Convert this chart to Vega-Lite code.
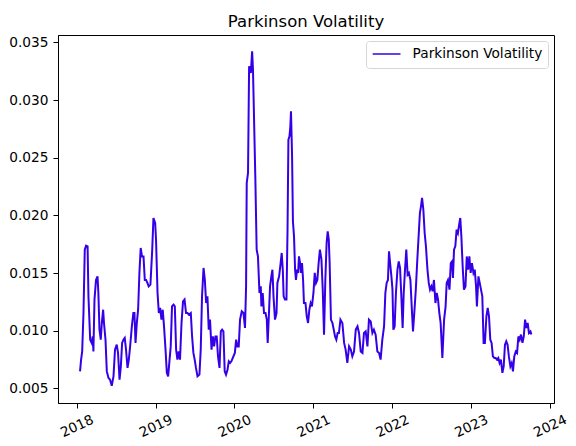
{
  "$schema": "https://vega.github.io/schema/vega-lite/v6.json",
  "description": "Parkinson volatility line chart.",
  "width": 496,
  "height": 368,
  "autosize": {"type": "none"},
  "padding": {"left": 58, "top": 35, "right": 22, "bottom": 43},
  "background": "white",
  "title": {
    "text": "Parkinson Volatility",
    "font": "DejaVu Sans",
    "fontSize": 16.5,
    "fontWeight": "normal",
    "color": "black",
    "anchor": "middle",
    "baseline": "alphabetic",
    "offset": 8,
    "dy": 16
  },
  "config": {
    "view": {"stroke": "black", "strokeWidth": 1},
    "axis": {
      "grid": false,
      "domainColor": "black",
      "tickColor": "black",
      "tickSize": 5,
      "labelColor": "black",
      "labelFont": "DejaVu Sans",
      "labelFontSize": 13.7,
      "title": null
    }
  },
  "data": {
    "values": [
      {"date": "2018-01-16", "vol": 0.00647},
      {"date": "2018-01-21", "vol": 0.00749},
      {"date": "2018-01-26", "vol": 0.00821},
      {"date": "2018-02-01", "vol": 0.01156},
      {"date": "2018-02-07", "vol": 0.01703},
      {"date": "2018-02-13", "vol": 0.01737},
      {"date": "2018-02-20", "vol": 0.01731},
      {"date": "2018-02-24", "vol": 0.01298},
      {"date": "2018-03-04", "vol": 0.00922},
      {"date": "2018-03-11", "vol": 0.00894},
      {"date": "2018-03-16", "vol": 0.0095},
      {"date": "2018-03-19", "vol": 0.0082},
      {"date": "2018-03-24", "vol": 0.0127},
      {"date": "2018-03-31", "vol": 0.0144},
      {"date": "2018-04-07", "vol": 0.01471},
      {"date": "2018-04-11", "vol": 0.01327},
      {"date": "2018-04-16", "vol": 0.01009},
      {"date": "2018-04-22", "vol": 0.00922},
      {"date": "2018-04-27", "vol": 0.01067},
      {"date": "2018-05-03", "vol": 0.01182},
      {"date": "2018-05-07", "vol": 0.01067},
      {"date": "2018-05-14", "vol": 0.00922},
      {"date": "2018-05-20", "vol": 0.00647},
      {"date": "2018-05-28", "vol": 0.0059},
      {"date": "2018-06-04", "vol": 0.00575},
      {"date": "2018-06-12", "vol": 0.00523},
      {"date": "2018-06-20", "vol": 0.00604},
      {"date": "2018-06-27", "vol": 0.00836},
      {"date": "2018-07-05", "vol": 0.00879},
      {"date": "2018-07-11", "vol": 0.00807},
      {"date": "2018-07-18", "vol": 0.00575},
      {"date": "2018-07-24", "vol": 0.00691},
      {"date": "2018-07-30", "vol": 0.00894},
      {"date": "2018-08-05", "vol": 0.00922},
      {"date": "2018-08-11", "vol": 0.00937},
      {"date": "2018-08-17", "vol": 0.00836},
      {"date": "2018-08-24", "vol": 0.00677},
      {"date": "2018-08-30", "vol": 0.00749},
      {"date": "2018-09-05", "vol": 0.00864},
      {"date": "2018-09-13", "vol": 0.01037},
      {"date": "2018-09-20", "vol": 0.01153},
      {"date": "2018-09-25", "vol": 0.01153},
      {"date": "2018-09-30", "vol": 0.00894},
      {"date": "2018-10-06", "vol": 0.01067},
      {"date": "2018-10-12", "vol": 0.01182},
      {"date": "2018-10-18", "vol": 0.01501},
      {"date": "2018-10-24", "vol": 0.01717},
      {"date": "2018-10-30", "vol": 0.01644},
      {"date": "2018-11-06", "vol": 0.01644},
      {"date": "2018-11-12", "vol": 0.0144},
      {"date": "2018-11-18", "vol": 0.0144},
      {"date": "2018-11-24", "vol": 0.01414},
      {"date": "2018-11-30", "vol": 0.01384},
      {"date": "2018-12-08", "vol": 0.01399},
      {"date": "2018-12-16", "vol": 0.01688},
      {"date": "2018-12-22", "vol": 0.01977},
      {"date": "2018-12-30", "vol": 0.01934},
      {"date": "2019-01-03", "vol": 0.01789},
      {"date": "2019-01-10", "vol": 0.01327},
      {"date": "2019-01-16", "vol": 0.01153},
      {"date": "2019-01-22", "vol": 0.01197},
      {"date": "2019-01-28", "vol": 0.01096},
      {"date": "2019-02-03", "vol": 0.01182},
      {"date": "2019-02-09", "vol": 0.01037},
      {"date": "2019-02-16", "vol": 0.00836},
      {"date": "2019-02-22", "vol": 0.00634},
      {"date": "2019-02-28", "vol": 0.00604},
      {"date": "2019-03-06", "vol": 0.00734},
      {"date": "2019-03-12", "vol": 0.00864},
      {"date": "2019-03-18", "vol": 0.01211},
      {"date": "2019-03-25", "vol": 0.01226},
      {"date": "2019-03-31", "vol": 0.01211},
      {"date": "2019-04-06", "vol": 0.00836},
      {"date": "2019-04-12", "vol": 0.00749},
      {"date": "2019-04-18", "vol": 0.0082},
      {"date": "2019-04-24", "vol": 0.00749},
      {"date": "2019-05-01", "vol": 0.01067},
      {"date": "2019-05-08", "vol": 0.01254},
      {"date": "2019-05-15", "vol": 0.0127},
      {"date": "2019-05-22", "vol": 0.01153},
      {"date": "2019-05-29", "vol": 0.01153},
      {"date": "2019-06-04", "vol": 0.01139},
      {"date": "2019-06-13", "vol": 0.01153},
      {"date": "2019-06-19", "vol": 0.0095},
      {"date": "2019-06-25", "vol": 0.00807},
      {"date": "2019-07-01", "vol": 0.00749},
      {"date": "2019-07-07", "vol": 0.00677},
      {"date": "2019-07-14", "vol": 0.00604},
      {"date": "2019-07-23", "vol": 0.00619},
      {"date": "2019-07-29", "vol": 0.00836},
      {"date": "2019-08-04", "vol": 0.01298},
      {"date": "2019-08-11", "vol": 0.01544},
      {"date": "2019-08-17", "vol": 0.0144},
      {"date": "2019-08-23", "vol": 0.0124},
      {"date": "2019-08-29", "vol": 0.01298},
      {"date": "2019-09-04", "vol": 0.01009},
      {"date": "2019-09-10", "vol": 0.01096},
      {"date": "2019-09-17", "vol": 0.00836},
      {"date": "2019-09-23", "vol": 0.0095},
      {"date": "2019-09-29", "vol": 0.00864},
      {"date": "2019-10-05", "vol": 0.0095},
      {"date": "2019-10-11", "vol": 0.0095},
      {"date": "2019-10-17", "vol": 0.00777},
      {"date": "2019-10-24", "vol": 0.00677},
      {"date": "2019-10-30", "vol": 0.00994},
      {"date": "2019-11-05", "vol": 0.01009},
      {"date": "2019-11-11", "vol": 0.00994},
      {"date": "2019-11-17", "vol": 0.00647},
      {"date": "2019-11-23", "vol": 0.00619},
      {"date": "2019-11-30", "vol": 0.00662},
      {"date": "2019-12-06", "vol": 0.00734},
      {"date": "2019-12-12", "vol": 0.0072},
      {"date": "2019-12-18", "vol": 0.00734},
      {"date": "2019-12-24", "vol": 0.00763},
      {"date": "2020-01-03", "vol": 0.00807},
      {"date": "2020-01-09", "vol": 0.00922},
      {"date": "2020-01-15", "vol": 0.00864},
      {"date": "2020-01-21", "vol": 0.00864},
      {"date": "2020-01-27", "vol": 0.01096},
      {"date": "2020-02-04", "vol": 0.01168},
      {"date": "2020-02-12", "vol": 0.01153},
      {"date": "2020-02-19", "vol": 0.01024},
      {"date": "2020-02-24", "vol": 0.01384},
      {"date": "2020-02-27", "vol": 0.02281},
      {"date": "2020-03-04", "vol": 0.02368},
      {"date": "2020-03-09", "vol": 0.03292},
      {"date": "2020-03-17", "vol": 0.03234},
      {"date": "2020-03-23", "vol": 0.03422},
      {"date": "2020-03-27", "vol": 0.03263},
      {"date": "2020-04-01", "vol": 0.0283},
      {"date": "2020-04-07", "vol": 0.0231},
      {"date": "2020-04-13", "vol": 0.01703},
      {"date": "2020-04-19", "vol": 0.01644},
      {"date": "2020-04-26", "vol": 0.01327},
      {"date": "2020-05-02", "vol": 0.01384},
      {"date": "2020-05-05", "vol": 0.01211},
      {"date": "2020-05-11", "vol": 0.01327},
      {"date": "2020-05-17", "vol": 0.01153},
      {"date": "2020-05-24", "vol": 0.01153},
      {"date": "2020-05-30", "vol": 0.01096},
      {"date": "2020-06-03", "vol": 0.00894},
      {"date": "2020-06-09", "vol": 0.01153},
      {"date": "2020-06-14", "vol": 0.01384},
      {"date": "2020-06-20", "vol": 0.01471},
      {"date": "2020-06-25", "vol": 0.01529},
      {"date": "2020-06-30", "vol": 0.01298},
      {"date": "2020-07-07", "vol": 0.01096},
      {"date": "2020-07-14", "vol": 0.01153},
      {"date": "2020-07-18", "vol": 0.01414},
      {"date": "2020-07-26", "vol": 0.01471},
      {"date": "2020-08-02", "vol": 0.01586},
      {"date": "2020-08-07", "vol": 0.01674},
      {"date": "2020-08-12", "vol": 0.01529},
      {"date": "2020-08-16", "vol": 0.01298},
      {"date": "2020-08-22", "vol": 0.0127},
      {"date": "2020-08-29", "vol": 0.0127},
      {"date": "2020-09-03", "vol": 0.01876},
      {"date": "2020-09-07", "vol": 0.02656},
      {"date": "2020-09-12", "vol": 0.02685},
      {"date": "2020-09-16", "vol": 0.02772},
      {"date": "2020-09-19", "vol": 0.02902},
      {"date": "2020-09-24", "vol": 0.02512},
      {"date": "2020-09-28", "vol": 0.01948},
      {"date": "2020-10-03", "vol": 0.01818},
      {"date": "2020-10-08", "vol": 0.01529},
      {"date": "2020-10-12", "vol": 0.0144},
      {"date": "2020-10-17", "vol": 0.01529},
      {"date": "2020-10-22", "vol": 0.01501},
      {"date": "2020-10-26", "vol": 0.01644},
      {"date": "2020-10-31", "vol": 0.01586},
      {"date": "2020-11-04", "vol": 0.01501},
      {"date": "2020-11-09", "vol": 0.01586},
      {"date": "2020-11-14", "vol": 0.0144},
      {"date": "2020-11-18", "vol": 0.0124},
      {"date": "2020-11-25", "vol": 0.0124},
      {"date": "2020-12-01", "vol": 0.01124},
      {"date": "2020-12-07", "vol": 0.01067},
      {"date": "2020-12-13", "vol": 0.01182},
      {"date": "2020-12-19", "vol": 0.0124},
      {"date": "2020-12-25", "vol": 0.01211},
      {"date": "2021-01-01", "vol": 0.01327},
      {"date": "2021-01-07", "vol": 0.01501},
      {"date": "2021-01-13", "vol": 0.01414},
      {"date": "2021-01-19", "vol": 0.0144},
      {"date": "2021-01-25", "vol": 0.01586},
      {"date": "2021-01-31", "vol": 0.01703},
      {"date": "2021-02-07", "vol": 0.01616},
      {"date": "2021-02-13", "vol": 0.01356},
      {"date": "2021-02-19", "vol": 0.00966},
      {"date": "2021-02-25", "vol": 0.0144},
      {"date": "2021-03-03", "vol": 0.01761},
      {"date": "2021-03-08", "vol": 0.01862},
      {"date": "2021-03-13", "vol": 0.01789},
      {"date": "2021-03-17", "vol": 0.01586},
      {"date": "2021-03-23", "vol": 0.01096},
      {"date": "2021-03-30", "vol": 0.01067},
      {"date": "2021-04-05", "vol": 0.01009},
      {"date": "2021-04-11", "vol": 0.0095},
      {"date": "2021-04-17", "vol": 0.00922},
      {"date": "2021-04-23", "vol": 0.0098},
      {"date": "2021-04-29", "vol": 0.0098},
      {"date": "2021-05-06", "vol": 0.01096},
      {"date": "2021-05-15", "vol": 0.01067},
      {"date": "2021-05-23", "vol": 0.00894},
      {"date": "2021-05-30", "vol": 0.00836},
      {"date": "2021-06-07", "vol": 0.0072},
      {"date": "2021-06-15", "vol": 0.00864},
      {"date": "2021-06-23", "vol": 0.00836},
      {"date": "2021-06-30", "vol": 0.00777},
      {"date": "2021-07-08", "vol": 0.0082},
      {"date": "2021-07-16", "vol": 0.01009},
      {"date": "2021-07-24", "vol": 0.01037},
      {"date": "2021-07-31", "vol": 0.0098},
      {"date": "2021-08-08", "vol": 0.0082},
      {"date": "2021-08-16", "vol": 0.00807},
      {"date": "2021-08-23", "vol": 0.0098},
      {"date": "2021-08-31", "vol": 0.00994},
      {"date": "2021-09-08", "vol": 0.00864},
      {"date": "2021-09-15", "vol": 0.01096},
      {"date": "2021-09-23", "vol": 0.01081},
      {"date": "2021-10-01", "vol": 0.0098},
      {"date": "2021-10-08", "vol": 0.01009},
      {"date": "2021-10-16", "vol": 0.00966},
      {"date": "2021-10-24", "vol": 0.0082},
      {"date": "2021-11-01", "vol": 0.00807},
      {"date": "2021-11-08", "vol": 0.00749},
      {"date": "2021-11-16", "vol": 0.00922},
      {"date": "2021-11-24", "vol": 0.01037},
      {"date": "2021-11-30", "vol": 0.01327},
      {"date": "2021-12-06", "vol": 0.01414},
      {"date": "2021-12-12", "vol": 0.0144},
      {"date": "2021-12-17", "vol": 0.01688},
      {"date": "2021-12-22", "vol": 0.01586},
      {"date": "2021-12-28", "vol": 0.01471},
      {"date": "2022-01-02", "vol": 0.01356},
      {"date": "2022-01-06", "vol": 0.01009},
      {"date": "2022-01-12", "vol": 0.01037},
      {"date": "2022-01-18", "vol": 0.01327},
      {"date": "2022-01-25", "vol": 0.01529},
      {"date": "2022-01-31", "vol": 0.01601},
      {"date": "2022-02-06", "vol": 0.01544},
      {"date": "2022-02-12", "vol": 0.01298},
      {"date": "2022-02-18", "vol": 0.01024},
      {"date": "2022-02-23", "vol": 0.01327},
      {"date": "2022-03-01", "vol": 0.01529},
      {"date": "2022-03-07", "vol": 0.01703},
      {"date": "2022-03-13", "vol": 0.01486},
      {"date": "2022-03-19", "vol": 0.01501},
      {"date": "2022-03-26", "vol": 0.0144},
      {"date": "2022-04-01", "vol": 0.01211},
      {"date": "2022-04-07", "vol": 0.00994},
      {"date": "2022-04-13", "vol": 0.01153},
      {"date": "2022-04-20", "vol": 0.01356},
      {"date": "2022-04-27", "vol": 0.01616},
      {"date": "2022-05-03", "vol": 0.01818},
      {"date": "2022-05-09", "vol": 0.0202},
      {"date": "2022-05-14", "vol": 0.02078},
      {"date": "2022-05-19", "vol": 0.02151},
      {"date": "2022-05-25", "vol": 0.02049},
      {"date": "2022-05-31", "vol": 0.01847},
      {"date": "2022-06-06", "vol": 0.01731},
      {"date": "2022-06-13", "vol": 0.01529},
      {"date": "2022-06-19", "vol": 0.01414},
      {"date": "2022-06-25", "vol": 0.01356},
      {"date": "2022-07-01", "vol": 0.01384},
      {"date": "2022-07-07", "vol": 0.01341},
      {"date": "2022-07-13", "vol": 0.0144},
      {"date": "2022-07-20", "vol": 0.0124},
      {"date": "2022-07-26", "vol": 0.01327},
      {"date": "2022-08-01", "vol": 0.0127},
      {"date": "2022-08-07", "vol": 0.01153},
      {"date": "2022-08-13", "vol": 0.01067},
      {"date": "2022-08-21", "vol": 0.00763},
      {"date": "2022-08-29", "vol": 0.01096},
      {"date": "2022-09-05", "vol": 0.01211},
      {"date": "2022-09-10", "vol": 0.01414},
      {"date": "2022-09-16", "vol": 0.0144},
      {"date": "2022-09-23", "vol": 0.01356},
      {"date": "2022-09-29", "vol": 0.01586},
      {"date": "2022-10-05", "vol": 0.01601},
      {"date": "2022-10-09", "vol": 0.01457},
      {"date": "2022-10-14", "vol": 0.01703},
      {"date": "2022-10-20", "vol": 0.01731},
      {"date": "2022-10-26", "vol": 0.01876},
      {"date": "2022-11-01", "vol": 0.01847},
      {"date": "2022-11-08", "vol": 0.01934},
      {"date": "2022-11-12", "vol": 0.01977},
      {"date": "2022-11-17", "vol": 0.01818},
      {"date": "2022-11-23", "vol": 0.01558},
      {"date": "2022-11-29", "vol": 0.01356},
      {"date": "2022-12-06", "vol": 0.01384},
      {"date": "2022-12-12", "vol": 0.01644},
      {"date": "2022-12-18", "vol": 0.01529},
      {"date": "2022-12-24", "vol": 0.01644},
      {"date": "2022-12-30", "vol": 0.01501},
      {"date": "2023-01-05", "vol": 0.01586},
      {"date": "2023-01-12", "vol": 0.01501},
      {"date": "2023-01-18", "vol": 0.01529},
      {"date": "2023-01-24", "vol": 0.01384},
      {"date": "2023-01-28", "vol": 0.01211},
      {"date": "2023-02-04", "vol": 0.01471},
      {"date": "2023-02-10", "vol": 0.01414},
      {"date": "2023-02-16", "vol": 0.01356},
      {"date": "2023-02-22", "vol": 0.01298},
      {"date": "2023-02-28", "vol": 0.00894},
      {"date": "2023-03-06", "vol": 0.00894},
      {"date": "2023-03-13", "vol": 0.01124},
      {"date": "2023-03-19", "vol": 0.01197},
      {"date": "2023-03-25", "vol": 0.01124},
      {"date": "2023-03-31", "vol": 0.00922},
      {"date": "2023-04-06", "vol": 0.00894},
      {"date": "2023-04-12", "vol": 0.00777},
      {"date": "2023-04-19", "vol": 0.00763},
      {"date": "2023-04-25", "vol": 0.00763},
      {"date": "2023-05-01", "vol": 0.00749},
      {"date": "2023-05-07", "vol": 0.00763},
      {"date": "2023-05-13", "vol": 0.0072},
      {"date": "2023-05-19", "vol": 0.00749},
      {"date": "2023-05-26", "vol": 0.00634},
      {"date": "2023-06-01", "vol": 0.00691},
      {"date": "2023-06-07", "vol": 0.00879},
      {"date": "2023-06-13", "vol": 0.00908},
      {"date": "2023-06-19", "vol": 0.00879},
      {"date": "2023-06-25", "vol": 0.00777},
      {"date": "2023-07-02", "vol": 0.00691},
      {"date": "2023-07-08", "vol": 0.0072},
      {"date": "2023-07-14", "vol": 0.00647},
      {"date": "2023-07-20", "vol": 0.00777},
      {"date": "2023-07-27", "vol": 0.0082},
      {"date": "2023-08-02", "vol": 0.00807},
      {"date": "2023-08-08", "vol": 0.0095},
      {"date": "2023-08-14", "vol": 0.00922},
      {"date": "2023-08-20", "vol": 0.00966},
      {"date": "2023-08-27", "vol": 0.00894},
      {"date": "2023-09-02", "vol": 0.0095},
      {"date": "2023-09-08", "vol": 0.01096},
      {"date": "2023-09-14", "vol": 0.01024},
      {"date": "2023-09-20", "vol": 0.01067},
      {"date": "2023-09-26", "vol": 0.0098},
      {"date": "2023-10-03", "vol": 0.00994},
      {"date": "2023-10-07", "vol": 0.00966}
    ]
  },
  "mark": {"type": "line", "strokeWidth": 2, "clip": true},
  "encoding": {
    "x": {
      "field": "date",
      "type": "temporal",
      "scale": {
        "type": "utc",
        "domain": [
          {"year": 2017, "month": 10, "date": 6, "utc": true},
          {"year": 2024, "month": 1, "date": 20, "utc": true}
        ],
        "nice": false
      },
      "axis": {
        "values": [
          {"year": 2018, "month": 1, "date": 1, "utc": true},
          {"year": 2019, "month": 1, "date": 1, "utc": true},
          {"year": 2020, "month": 1, "date": 1, "utc": true},
          {"year": 2021, "month": 1, "date": 1, "utc": true},
          {"year": 2022, "month": 1, "date": 1, "utc": true},
          {"year": 2023, "month": 1, "date": 1, "utc": true},
          {"year": 2024, "month": 1, "date": 1, "utc": true}
        ],
        "format": "%Y",
        "formatType": "utc",
        "labelAngle": -25,
        "labelAlign": "center",
        "labelBaseline": "middle",
        "labelPadding": 18,
        "labelOverlap": false,
        "labelFlush": false
      }
    },
    "y": {
      "field": "vol",
      "type": "quantitative",
      "scale": {"domain": [0.00373, 0.03564], "nice": false, "zero": false},
      "axis": {
        "values": [0.005, 0.01, 0.015, 0.02, 0.025, 0.03, 0.035],
        "format": ".3f",
        "labelPadding": 5
      }
    },
    "color": {
      "datum": "Parkinson Volatility",
      "type": "nominal",
      "scale": {"range": ["#3500e8"]},
      "legend": {
        "title": null,
        "orient": "top-right",
        "offset": 6,
        "padding": 5.6,
        "clipHeight": 15,
        "strokeColor": "#d6d6d6",
        "fillColor": "white",
        "cornerRadius": 3,
        "symbolType": "stroke",
        "symbolSize": 773,
        "symbolStrokeWidth": 1.5,
        "labelFont": "DejaVu Sans",
        "labelFontSize": 13.7,
        "labelColor": "black",
        "labelOffset": 11
      }
    }
  }
}
